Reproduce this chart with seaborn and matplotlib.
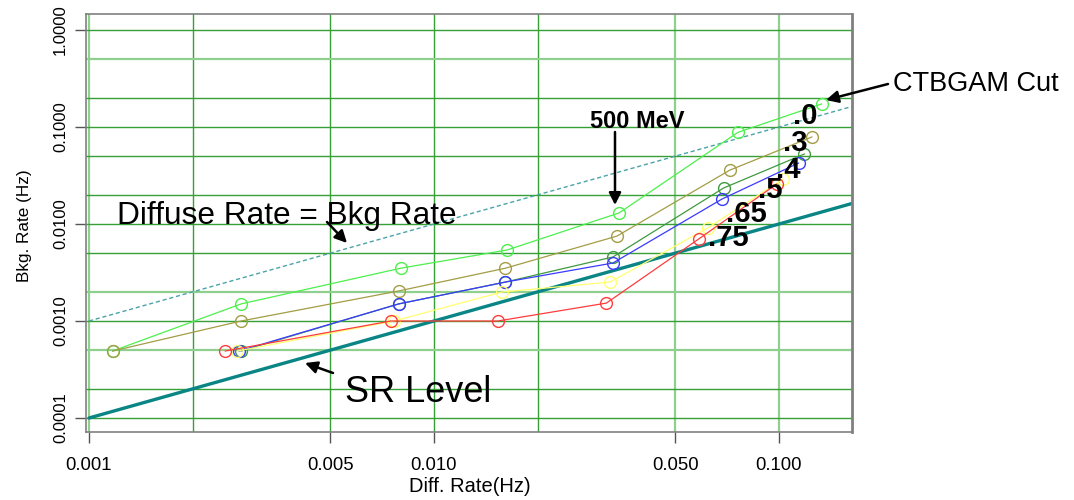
import numpy as np
import pandas as pd
import matplotlib
matplotlib.use("Agg")
import matplotlib.pyplot as plt
import seaborn as sns

# ---- data ----
cut_labels = [".0", ".3", ".4", ".5", ".65", ".75"]
green_x = [0.00117, 0.00276, 0.0080, 0.0163, 0.0344, 0.0760, 0.133]
green_y = [0.00049, 0.0015, 0.0035, 0.0054, 0.0130, 0.088, 0.173]
olive_x = [0.00117, 0.00276, 0.0079, 0.0161, 0.0339, 0.0721, 0.1246]
olive_y = [0.00049, 0.0010, 0.00204, 0.0035, 0.0075, 0.036, 0.079]
dkgreen_x = [0.00276, 0.0079, 0.0161, 0.0330, 0.0691, 0.1185]
dkgreen_y = [0.00049, 0.0015, 0.00252, 0.00457, 0.0235, 0.0527]
blue_x = [0.00272, 0.0079, 0.0161, 0.0330, 0.0684, 0.114]
blue_y = [0.00049, 0.0015, 0.00252, 0.00396, 0.0181, 0.0425]
yellow_x = [0.00269, 0.00766, 0.01575, 0.0324, 0.0622, 0.1027]
yellow_y = [0.00049, 0.0010, 0.00199, 0.00252, 0.0091, 0.0291]
red_x = [0.00248, 0.0075, 0.0153, 0.0316, 0.0585, 0.0986]
red_y = [0.00049, 0.0010, 0.0010, 0.00153, 0.0070, 0.0259]

diffuse_x = [0.001, 0.163]
diffuse_y = [0.001, 0.163]
sr_x = [0.001, 0.163]
sr_y = [0.0001, 0.0163]

x_ticks = [0.001, 0.005, 0.010, 0.050, 0.100]
x_ticklabels = ["0.001", "0.005", "0.010", "0.050", "0.100"]
y_ticks = [1.0, 0.1, 0.01, 0.001, 0.0001]
y_ticklabels = ["1.0000", "0.1000", "0.0100", "0.0010", "0.0001"]
x_grid = [0.001, 0.002, 0.005, 0.01, 0.02, 0.05, 0.1]
y_grid = [1.0, 0.5, 0.2, 0.1, 0.05, 0.02, 0.01, 0.005, 0.002, 0.001,
          0.0005, 0.0002, 0.0001]

series = [
    (green_x, green_y, "#4cf04c"),
    (olive_x, olive_y, "#a39d45"),
    (dkgreen_x, dkgreen_y, "#3f9a3f"),
    (blue_x, blue_y, "#3a3aff"),
    (yellow_x, yellow_y, "#ffff70"),
    (red_x, red_y, "#ff3c3c"),
]

sns.set_style("white")
plt.rcParams["font.family"] = ["Liberation Sans", "DejaVu Sans"]
plt.rcParams["text.color"] = "black"
plt.rcParams["axes.labelcolor"] = "black"
plt.rcParams["xtick.color"] = "black"
plt.rcParams["ytick.color"] = "black"

fig = plt.figure(figsize=(10.74, 5.0), dpi=100)
W, H = 1074, 500
ax = fig.add_axes([86 / W, 1 - 432 / H, (852 - 86) / W, (432 - 14) / H])
ax.set_xscale("log")
ax.set_yscale("log")
ax.set_xlim(10 ** (-3 - 3 / 345), 10 ** ((852 - 89) / 345 - 3))
ax.set_ylim(10 ** (-4 - 14 / 97), 10 ** (16 / 97))

light_x = {0.001, 0.05, 0.1}
light_y = {0.5, 0.002, 0.0005}
for gx in x_grid:
    if gx in light_x:
        ax.axvline(gx, color="#8fd08f", lw=1.6, zorder=0)
    else:
        ax.axvline(gx, color="#36a036", lw=1.0, zorder=0)
for gy in y_grid:
    if gy in light_y:
        ax.axhline(gy, color="#8fd08f", lw=1.6, zorder=0)
    else:
        ax.axhline(gy, color="#36a036", lw=1.0, zorder=0)

# reference lines
sns.lineplot(x=diffuse_x, y=diffuse_y, ax=ax, color="#4aa3a8", lw=1.0,
             linestyle=(0, (3, 2)), estimator=None, sort=False, zorder=2)
sns.lineplot(x=sr_x, y=sr_y, ax=ax, color="#0a8585", lw=2.4,
             estimator=None, sort=False, zorder=2)

for i, (xs, ys, c) in enumerate(series):
    sns.lineplot(x=xs, y=ys, ax=ax, color=c, lw=0.9, marker="o", ms=8.5,
                 mfc="none", mec=c, mew=1.0, estimator=None, sort=False,
                 zorder=3 + i)

ax.minorticks_off()
ax.set_xticks(x_ticks)
ax.set_xticklabels(x_ticklabels, fontsize=13.3)
ax.set_yticks(y_ticks)
ax.set_yticklabels(y_ticklabels, fontsize=12, rotation=90, va="center")
ax.tick_params(axis="both", direction="out", length=8, width=1,
               color="#555555", labelcolor="black", bottom=True, left=True)
ax.tick_params(axis="x", pad=10)
ax.tick_params(axis="y", pad=5)
for s in ax.spines.values():
    s.set_color("#808080")
    s.set_linewidth(1.2)
ax.spines["right"].set_linewidth(2.0)

fig.text(470 / W, 1 - 487 / H, "Diff. Rate(Hz)", fontsize=14.5,
         ha="center", va="center", color="black")
fig.text(25 / W, 1 - 226 / H, "Bkg. Rate (Hz)", fontsize=12.3,
         ha="center", va="center", rotation=90, color="black")

# annotations
label_pos = [(805, 116), (795, 143), (788, 170), (770, 190), (746, 214), (728, 238)]
for lab, (px, py) in zip(cut_labels, label_pos):
    fig.text(px / W, 1 - py / H, lab, fontsize=21, fontweight="bold",
             ha="center", va="center", zorder=10, color="black")

arrow = dict(arrowstyle="-|>", color="black", lw=1.8, mutation_scale=18,
             shrinkA=0, shrinkB=0)

fig.text(637 / W, 1 - 122 / H, "500 MeV", fontsize=17, fontweight="bold",
         ha="center", va="center", color="black")
ax.annotate("", xy=(615, H - 205), xytext=(615, H - 132),
            xycoords="figure pixels", textcoords="figure pixels",
            arrowprops=arrow)

fig.text(893 / W, 1 - 84 / H, "CTBGAM Cut", fontsize=19.5,
         ha="left", va="center", color="black")
ax.annotate("", xy=(826, H - 100), xytext=(888, H - 84),
            xycoords="figure pixels", textcoords="figure pixels",
            arrowprops=arrow)

fig.text(117 / W, 1 - 216 / H, "Diffuse Rate = Bkg Rate", fontsize=22.8,
         ha="left", va="center", zorder=10, color="black")
ax.annotate("", xy=(347, H - 243), xytext=(327, H - 222),
            xycoords="figure pixels", textcoords="figure pixels",
            arrowprops=arrow)

fig.text(345 / W, 1 - 392 / H, "SR Level", fontsize=26,
         ha="left", va="center", color="black")
ax.annotate("", xy=(305, H - 363), xytext=(333, H - 373),
            xycoords="figure pixels", textcoords="figure pixels",
            arrowprops=arrow)

fig.savefig("out.png", dpi=100, facecolor="white")
